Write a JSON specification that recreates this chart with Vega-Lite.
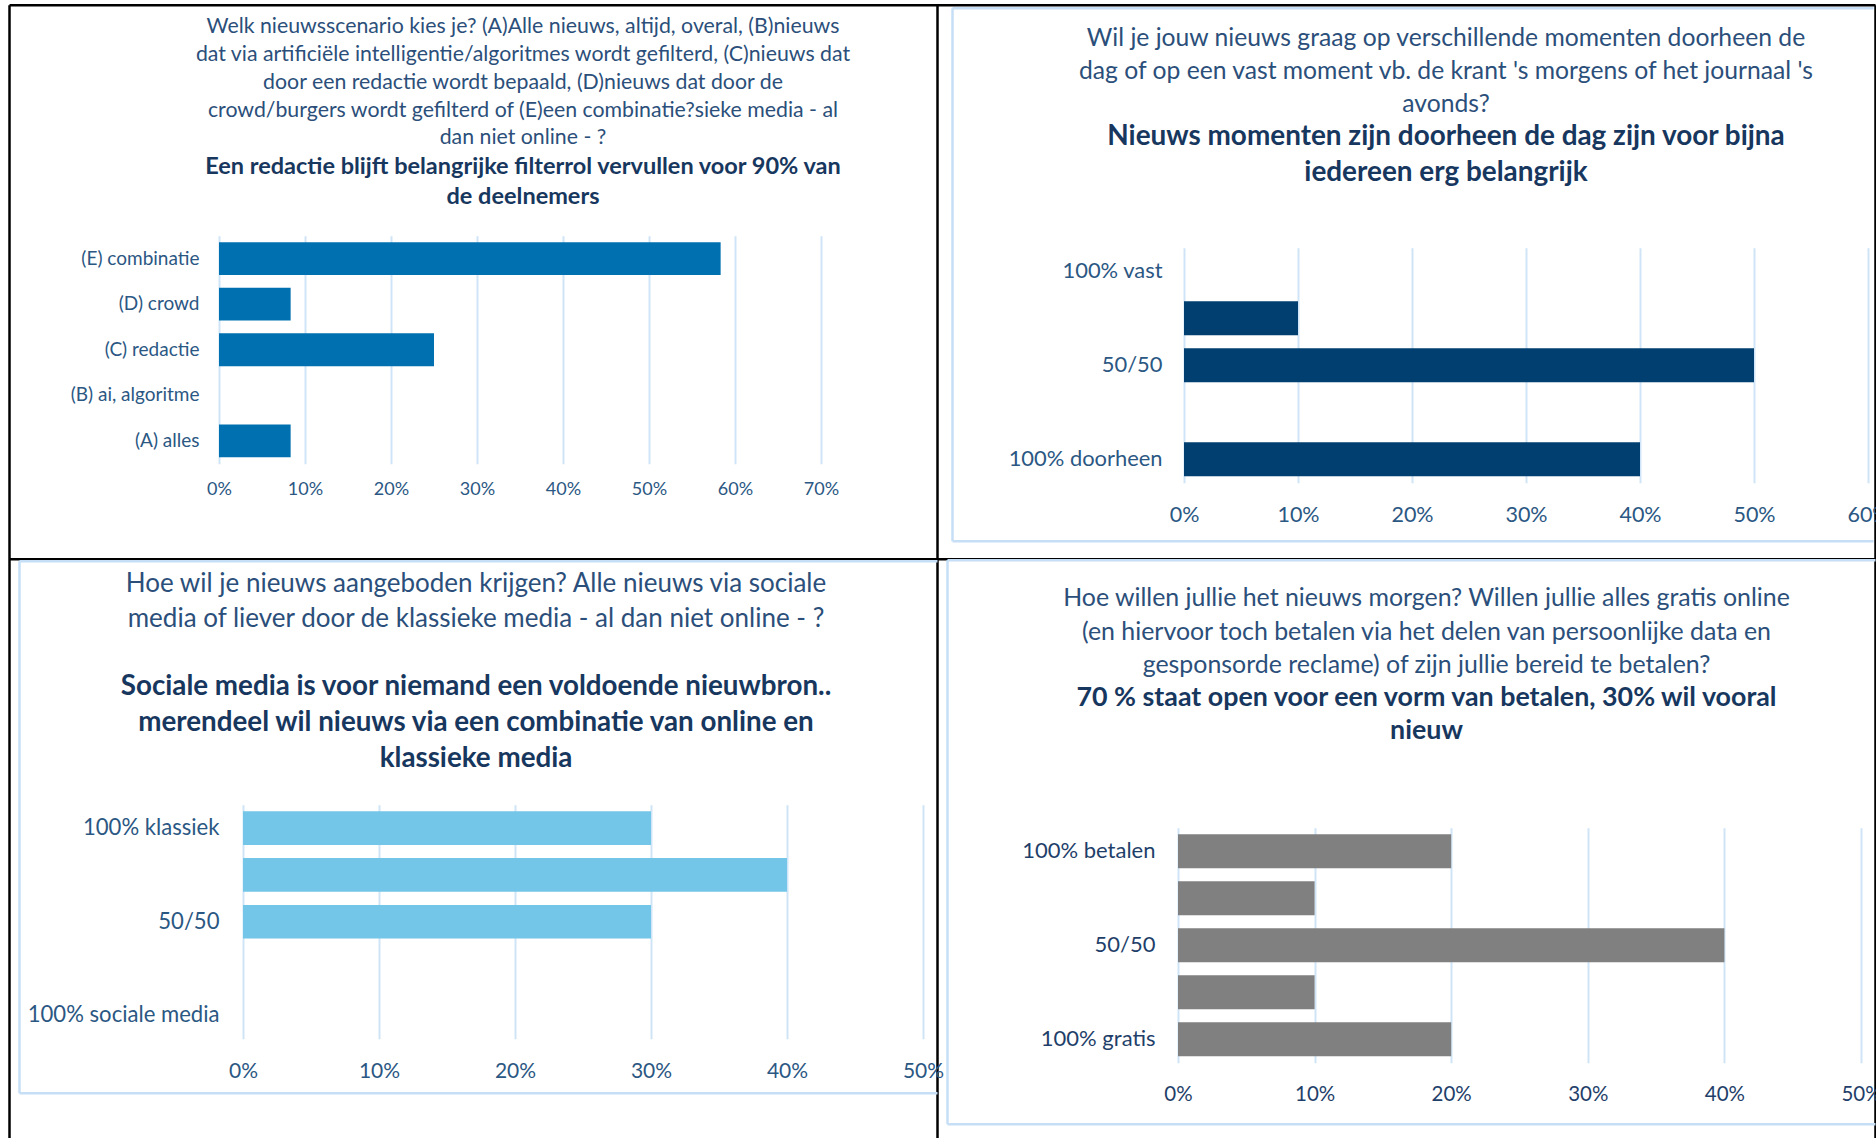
{
  "$schema": "https://vega.github.io/schema/vega-lite/v6.json",
  "background": "white",
  "padding": {"left": 27, "top": 15.75, "right": 0, "bottom": 0},
  "datasets": {
    "p1": [
      {"c": "(E) combinatie", "v": 0.5833},
      {"c": "(D) crowd", "v": 0.0833},
      {"c": "(C) redactie", "v": 0.25},
      {"c": "(B) ai, algoritme", "v": 0},
      {"c": "(A) alles", "v": 0.0833}
    ],
    "p2": [
      {"c": "100% vast", "v": 0},
      {"c": " ", "v": 0.1},
      {"c": "50/50", "v": 0.5},
      {"c": "  ", "v": 0},
      {"c": "100% doorheen", "v": 0.4}
    ],
    "p3": [
      {"c": "100% klassiek", "v": 0.3},
      {"c": " ", "v": 0.4},
      {"c": "50/50", "v": 0.3},
      {"c": "  ", "v": 0},
      {"c": "100% sociale media", "v": 0}
    ],
    "p4": [
      {"c": "100% betalen", "v": 0.2},
      {"c": " ", "v": 0.1},
      {"c": "50/50", "v": 0.4},
      {"c": "  ", "v": 0.1},
      {"c": "100% gratis", "v": 0.2}
    ]
  },
  "columns": 2,
  "bounds": "flush",
  "align": "each",
  "spacing": {"row": 310, "column": 255},
  "concat": [
    {
      "width": 602, "height": 228,
      "data": {"name": "p1"},
      "title": {
        "text": ["Welk nieuwsscenario kies je? (A)Alle nieuws, altijd, overal, (B)nieuws", "dat via artificiële intelligentie/algoritmes wordt gefilterd, (C)nieuws dat", "door een redactie wordt bepaald, (D)nieuws dat door de", "crowd/burgers wordt gefilterd of (E)een combinatie?sieke media - al", "dan niet online - ?"],
        "subtitle": ["Een redactie blijft belangrijke filterrol vervullen voor 90% van", "de deelnemers"],
        "anchor": "middle", "frame": "group", "font": "Lato", "fontSize": 21.3, "fontWeight": "normal", "lineHeight": 27.75, "color": "#2B4F7A",
        "subtitleFont": "Lato", "subtitleFontSize": 23.5, "subtitleFontWeight": "bold", "subtitleLineHeight": 30, "subtitleColor": "#17375E", "subtitlePadding": 6.7,
        "offset": 27, "dx": 3
      },
      "resolve": {"scale": {"x": "independent", "y": "independent"}},
      "layer": [
        {
          "mark": {"type": "bar", "color": "#0070B0"},
          "encoding": {
            "y": {"field": "c", "type": "nominal", "sort": ["(E) combinatie", "(D) crowd", "(C) redactie", "(B) ai, algoritme", "(A) alles"],
              "scale": {"paddingInner": 0.28, "paddingOuter": 0.14},
              "axis": {"orient": "left", "title": null, "domain": false, "ticks": false, "grid": false, "labelPadding": 20, "labelFontSize": 19, "labelColor": "#2B5783", "labelLimit": 400}},
            "x": {"field": "v", "type": "quantitative", "scale": {"domain": [0, 0.7], "nice": false},
              "axis": {"orient": "bottom", "title": null, "format": ".0%", "values": [0, 0.1, 0.2, 0.3, 0.4, 0.5, 0.6, 0.7], "domain": false, "ticks": false, "tickSize": 0, "labelPadding": 26, "labelBaseline": "middle", "labelFontSize": 18, "labelColor": "#2B5783", "labelFlush": false, "labelOverlap": false, "labelBound": false, "grid": true, "gridColor": "#CFE4F7", "gridWidth": 2}}
          }
        },
        {
          "mark": {"type": "point", "opacity": 0},
          "encoding": {
            "x": {"datum": 0.5, "type": "quantitative", "scale": {"domain": [0, 1, 2], "range": [-210, 718, 1656], "nice": false, "zero": false},
              "axis": {"orient": "top", "grid": true, "gridColor": "#000000", "gridWidth": 2.5, "values": [0, 1, 2], "labels": false, "ticks": false, "domain": false, "title": null, "minExtent": 0, "maxExtent": 0}},
            "y": {"datum": 0.5, "type": "quantitative", "scale": {"domain": [0, 1, 2], "range": [-231, 323, 902], "nice": false, "zero": false},
              "axis": {"orient": "left", "grid": true, "gridColor": "#000000", "gridWidth": 2.5, "values": [0, 1], "labels": false, "ticks": false, "domain": false, "title": null, "minExtent": 0, "maxExtent": 0}}
          }
        }
      ]
    },
    {
      "width": 690, "height": 259,
      "data": {"name": "p2"},
      "title": {
        "text": ["Wil je jouw nieuws graag op verschillende momenten doorheen de", "dag of op een vast moment vb. de krant 's morgens of het journaal 's", "avonds?"],
        "subtitle": ["Nieuws momenten zijn doorheen de dag zijn voor bijna", "iedereen erg belangrijk"],
        "anchor": "middle", "frame": "group", "font": "Lato", "fontSize": 24.7, "fontWeight": "normal", "lineHeight": 32.8, "color": "#2B4F7A",
        "subtitleFont": "Lato", "subtitleFontSize": 27.9, "subtitleFontWeight": "bold", "subtitleLineHeight": 35.4, "subtitleColor": "#17375E", "subtitlePadding": 6.6,
        "offset": 49.3, "dx": -77
      },
      "resolve": {"scale": {"x": "independent", "y": "independent"}},
      "layer": [
        {
          "mark": {"type": "bar", "color": "#013F70"},
          "encoding": {
            "y": {"field": "c", "type": "nominal", "sort": ["100% vast", " ", "50/50", "  ", "100% doorheen"],
              "scale": {"paddingInner": 0.28, "paddingOuter": 0.14, "range": [12, 247]},
              "axis": {"orient": "left", "title": null, "domain": false, "ticks": false, "grid": false, "labelPadding": 16, "labelFontSize": 21.9, "labelColor": "#2B5783", "labelLimit": 400}},
            "x": {"field": "v", "type": "quantitative", "scale": {"domain": [0, 0.6], "nice": false, "range": [6, 690]},
              "axis": {"orient": "bottom", "title": null, "format": ".0%", "values": [0, 0.1, 0.2, 0.3, 0.4, 0.5, 0.6], "domain": false, "ticks": false, "tickSize": 0, "labelPadding": 21, "labelBaseline": "middle", "labelFontSize": 21.5, "labelColor": "#2B5783", "labelFlush": false, "labelOverlap": false, "labelBound": false, "grid": true, "gridColor": "#CFE4F7", "gridWidth": 2}}
          }
        },
        {
          "mark": {"type": "point", "opacity": 0},
          "encoding": {
            "x": {"datum": 0.5, "type": "quantitative", "scale": {"domain": [0, 1], "range": [-226, 695], "nice": false, "zero": false},
              "axis": {"orient": "top", "grid": true, "gridColor": "#C6DFF6", "gridWidth": 2.5, "values": [0], "labels": false, "ticks": false, "domain": false, "title": null, "minExtent": 0, "maxExtent": 0}},
            "y": {"datum": 0.5, "type": "quantitative", "scale": {"domain": [0, 1], "range": [-228, 305], "nice": false, "zero": false},
              "axis": {"orient": "left", "grid": true, "gridColor": "#C6DFF6", "gridWidth": 2.5, "values": [0, 1], "labels": false, "ticks": false, "domain": false, "title": null, "minExtent": 0, "maxExtent": 0}}
          }
        }
      ]
    },
    {
      "width": 704, "height": 234,
      "data": {"name": "p3"},
      "title": {
        "text": ["Hoe wil je nieuws aangeboden krijgen? Alle nieuws via sociale", "media of liever door de klassieke media - al dan niet online - ?"],
        "subtitle": ["Sociale media is voor niemand een voldoende nieuwbron..", "merendeel  wil nieuws via een  combinatie van online en", "klassieke media"],
        "anchor": "middle", "frame": "group", "font": "Lato", "fontSize": 26, "fontWeight": "normal", "lineHeight": 34.5, "color": "#2B4F7A",
        "subtitleFont": "Lato", "subtitleFontSize": 27.75, "subtitleFontWeight": "bold", "subtitleLineHeight": 36, "subtitleColor": "#17375E", "subtitlePadding": 41.6,
        "offset": 31.75, "dx": -95
      },
      "resolve": {"scale": {"x": "independent", "y": "independent"}},
      "layer": [
        {
          "mark": {"type": "bar", "color": "#73C6E7"},
          "encoding": {
            "y": {"field": "c", "type": "nominal", "sort": ["100% klassiek", " ", "50/50", "  ", "100% sociale media"],
              "scale": {"paddingInner": 0.28, "paddingOuter": 0.14},
              "axis": {"orient": "left", "title": null, "domain": false, "ticks": false, "grid": false, "labelPadding": 0, "labelFontSize": 22.1, "labelColor": "#2B5783", "labelLimit": 400}},
            "x": {"field": "v", "type": "quantitative", "scale": {"domain": [0, 0.5], "nice": false, "range": [24, 704]},
              "axis": {"orient": "bottom", "title": null, "format": ".0%", "values": [0, 0.1, 0.2, 0.3, 0.4, 0.5], "domain": false, "ticks": false, "tickSize": 0, "labelPadding": 33, "labelBaseline": "middle", "labelFontSize": 21, "labelColor": "#2B5783", "labelFlush": false, "labelOverlap": false, "labelBound": false, "grid": true, "gridColor": "#CFE4F7", "gridWidth": 2}}
          }
        },
        {
          "mark": {"type": "point", "opacity": 0},
          "encoding": {
            "x": {"datum": 0.5, "type": "quantitative", "scale": {"domain": [0, 1], "range": [-200, 718], "nice": false, "zero": false},
              "axis": {"orient": "top", "grid": true, "gridColor": "#C6DFF6", "gridWidth": 2.5, "values": [0], "labels": false, "ticks": false, "domain": false, "title": null, "minExtent": 0, "maxExtent": 0}},
            "y": {"datum": 0.5, "type": "quantitative", "scale": {"domain": [0, 1], "range": [-244, 288], "nice": false, "zero": false},
              "axis": {"orient": "left", "grid": true, "gridColor": "#C6DFF6", "gridWidth": 2.5, "values": [0, 1], "labels": false, "ticks": false, "domain": false, "title": null, "minExtent": 0, "maxExtent": 0}}
          }
        }
      ]
    },
    {
      "width": 683, "height": 281,
      "data": {"name": "p4"},
      "title": {
        "text": ["Hoe willen jullie het nieuws morgen? Willen jullie alles gratis online", "(en hiervoor toch betalen via het delen van persoonlijke data en", "gesponsorde reclame) of zijn jullie bereid te betalen?"],
        "subtitle": ["70 % staat open voor een vorm van betalen,  30% wil vooral", "nieuw"],
        "anchor": "middle", "frame": "group", "font": "Lato", "fontSize": 24.9, "fontWeight": "normal", "lineHeight": 33.5, "color": "#2B4F7A",
        "subtitleFont": "Lato", "subtitleFontSize": 26.8, "subtitleFontWeight": "bold", "subtitleLineHeight": 33.5, "subtitleColor": "#17375E", "subtitlePadding": 6.7,
        "offset": 59.5, "dx": -93
      },
      "resolve": {"scale": {"x": "independent", "y": "independent"}},
      "layer": [
        {
          "mark": {"type": "bar", "color": "#808080"},
          "encoding": {
            "y": {"field": "c", "type": "nominal", "sort": ["100% betalen", " ", "50/50", "  ", "100% gratis"],
              "scale": {"paddingInner": 0.28, "paddingOuter": 0.14, "range": [23, 258]},
              "axis": {"orient": "left", "title": null, "domain": false, "ticks": false, "grid": false, "labelPadding": 23, "labelFontSize": 22, "labelColor": "#1F3F6A", "labelLimit": 400}},
            "x": {"field": "v", "type": "quantitative", "scale": {"domain": [0, 0.5], "nice": false},
              "axis": {"orient": "bottom", "title": null, "format": ".0%", "values": [0, 0.1, 0.2, 0.3, 0.4, 0.5], "domain": false, "ticks": false, "tickSize": 0, "labelPadding": 9, "labelBaseline": "middle", "labelFontSize": 20.5, "labelColor": "#1F3F6A", "labelFlush": false, "labelOverlap": false, "labelBound": false, "grid": true, "gridColor": "#CFE4F7", "gridWidth": 2}}
          }
        },
        {
          "mark": {"type": "point", "opacity": 0},
          "encoding": {
            "x": {"datum": 0.5, "type": "quantitative", "scale": {"domain": [0, 1], "range": [-231, 697], "nice": false, "zero": false},
              "axis": {"orient": "top", "grid": true, "gridColor": "#C6DFF6", "gridWidth": 2.5, "values": [0], "labels": false, "ticks": false, "domain": false, "title": null, "minExtent": 0, "maxExtent": 0}},
            "y": {"datum": 0.5, "type": "quantitative", "scale": {"domain": [0, 1], "range": [-245, 319], "nice": false, "zero": false},
              "axis": {"orient": "left", "grid": true, "gridColor": "#C6DFF6", "gridWidth": 2.5, "values": [0, 1], "labels": false, "ticks": false, "domain": false, "title": null, "minExtent": 0, "maxExtent": 0}}
          }
        }
      ]
    }
  ],
  "config": {
    "font": "Lato",
    "view": {"stroke": null},
    "axis": {"labelFont": "Lato"}
  }
}
